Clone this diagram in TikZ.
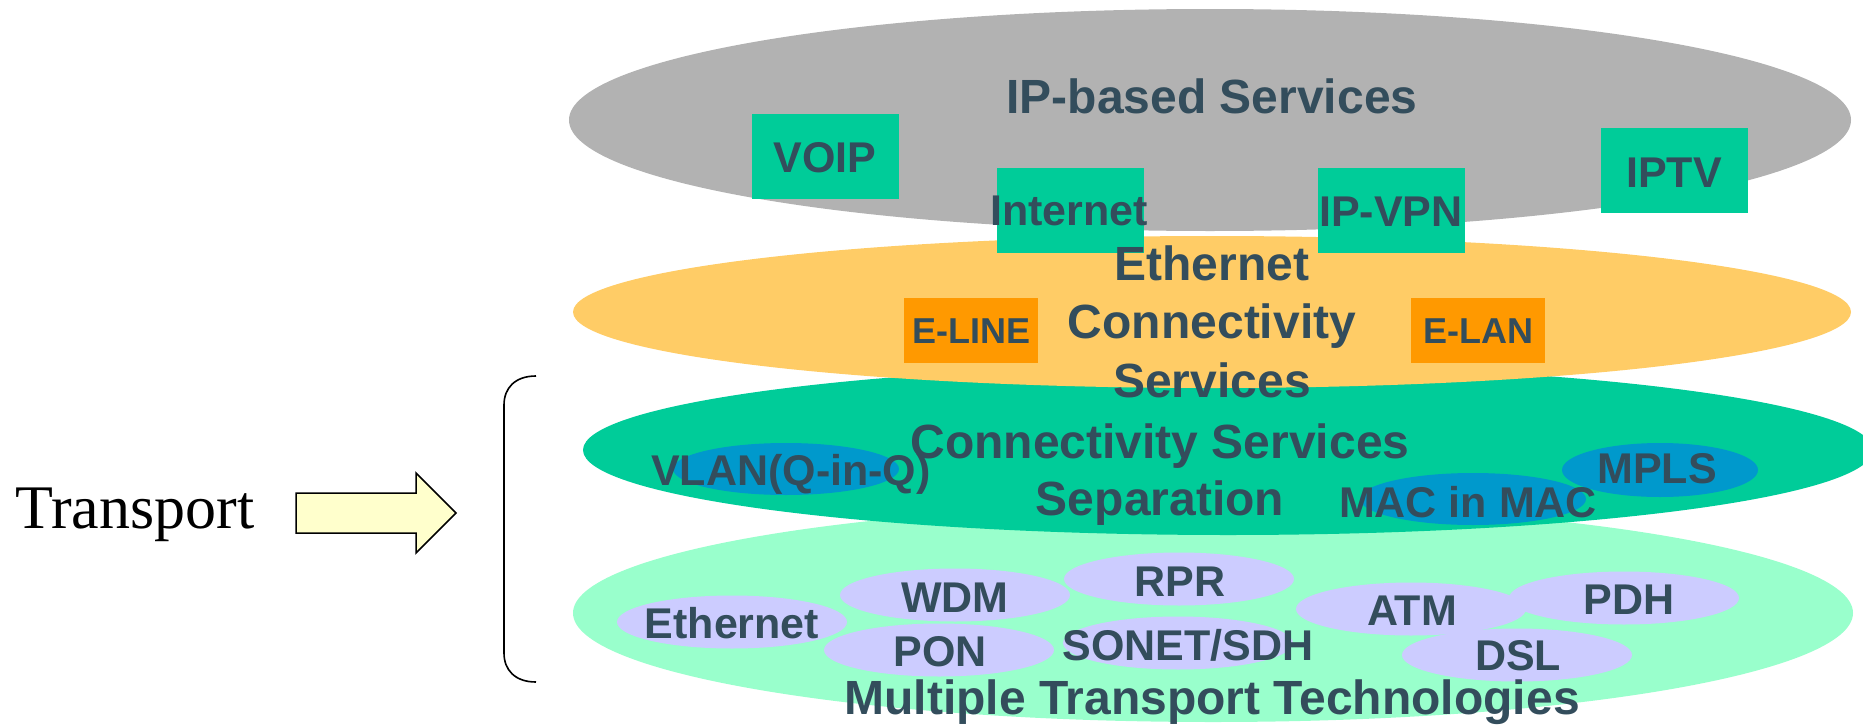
\documentclass[tikz,border=0pt]{standalone}
\usepackage{fontspec}
\setmainfont{Liberation Sans}
\newfontfamily\serifTNR{Liberation Serif}
\usetikzlibrary{shapes.geometric}
\definecolor{txt}{RGB}{51,77,92}
\definecolor{grayL}{RGB}{178,178,178}
\definecolor{orangeL}{RGB}{255,204,102}
\definecolor{orangeB}{RGB}{255,153,0}
\definecolor{greenD}{RGB}{0,204,153}
\definecolor{mint}{RGB}{153,255,204}
\definecolor{blueE}{RGB}{0,153,204}
\definecolor{lav}{RGB}{204,204,255}
\definecolor{paleY}{RGB}{255,255,204}
\tikzset{
  layer/.style={ellipse, inner sep=0pt, draw=none},
  techell/.style={ellipse, inner sep=0pt, fill=lav, minimum width=230pt, minimum height=53pt},
  blueell/.style={ellipse, inner sep=0pt, fill=blueE, minimum width=226pt, minimum height=52pt},
  svcbox/.style={rectangle, inner sep=0pt, fill=greenD, minimum width=147pt, minimum height=85pt},
  ethbox/.style={rectangle, inner sep=0pt, fill=orangeB, minimum width=134pt, minimum height=65pt},
  big/.style={text=txt, font=\bfseries\fontsize{48}{56}\selectfont, anchor=base, inner sep=0pt},
  mid/.style={text=txt, font=\bfseries\fontsize{43}{50}\selectfont, anchor=base, inner sep=0pt},
  sml/.style={text=txt, font=\bfseries\fontsize{36}{42}\selectfont, anchor=base, inner sep=0pt},
}
\begin{document}
\begin{tikzpicture}[x=1pt,y=-1pt]
\useasboundingbox (0,0) rectangle (1863,728);
% layers
\node[layer, fill=mint, minimum width=1280pt, minimum height=218pt] (mintL) at (1213,613) {};
\node[layer, fill=greenD, minimum width=1290pt, minimum height=170pt] (greenL) at (1228,450) {};
\node[layer, fill=orangeL, minimum width=1278pt, minimum height=152pt] (orangeLay) at (1212,312) {};
\node[layer, fill=grayL, minimum width=1282pt, minimum height=222pt] (grayLay) at (1210,120) {};
% blue ellipses
\node[blueell] (vlanE) at (786,469) {};
\node[blueell] (macE) at (1473,499) {};
\node[blueell, minimum width=196pt, minimum height=54pt] (mplsE) at (1660,470) {};
% tech ellipses
\node[techell] (ethE) at (732,622) {};
\node[techell] (wdmE) at (955,595) {};
\node[techell] (ponE) at (939,650) {};
\node[techell] (rprE) at (1179,579) {};
\node[techell] (sonE) at (1178,643) {};
\node[techell] (atmE) at (1411,609) {};
\node[techell] (dslE) at (1517,655) {};
\node[techell] (pdhE) at (1624,598) {};
% service boxes
\node[svcbox] (voipB) at (825,156) {};
\node[svcbox] (inetB) at (1070,210) {};
\node[svcbox] (vpnB) at (1391,210) {};
\node[svcbox] (tvB) at (1674,170) {};
% ethernet boxes
\node[ethbox] (elineB) at (971,330) {};
\node[ethbox] (elanB) at (1478,330) {};
% texts
\node[big] (ipT) at (1212,113) {IP-based Services};
\node[mid] (voipT) at (825,172) {VOIP};
\node[mid] (inetT) at (1069,225) {Internet};
\node[mid] (vpnT) at (1391,226) {IP-VPN};
\node[mid] (tvT) at (1674,187) {IPTV};
\node[big] (ecs1) at (1212,280) {Ethernet};
\node[big] (ecs2) at (1212,338) {Connectivity};
\node[big] (ecs3) at (1212,397) {Services};
\node[sml] (elineT) at (971,343) {E-LINE};
\node[sml] (elanT) at (1478,343) {E-LAN};
\node[big] (css1) at (1160,458) {Connectivity Services};
\node[big] (css2) at (1160,515) {Separation};
\node[mid] (vlanT) at (791,485) {VLAN(Q-in-Q)};
\node[mid] (macT) at (1468,517) {MAC in MAC};
\node[mid] (mplsT) at (1657,483) {MPLS};
\node[mid] (ethT) at (732,638) {Ethernet};
\node[mid] (wdmT) at (955,612) {WDM};
\node[mid] (ponT) at (940,666) {PON};
\node[mid] (rprT) at (1180,596) {RPR};
\node[mid] (sonT) at (1188,660) {SONET/SDH};
\node[mid] (atmT) at (1412,625) {ATM};
\node[mid] (dslT) at (1518,670) {DSL};
\node[mid] (pdhT) at (1629,614) {PDH};
\node[big] (mttT) at (1212,714) {Multiple Transport Technologies};
% Transport label, arrow, brace
\node[anchor=base, inner sep=0pt, font=\serifTNR\fontsize{62}{70}\selectfont] (trT) at (135,528) {Transport};
\draw[fill=paleY, line width=1.5pt, line join=miter] (296,493) -- (416,493) -- (416,473) -- (456,513) -- (416,553) -- (416,533) -- (296,533) -- cycle;
\draw[line width=1.6pt] (536,376) .. controls (515,376) and (504,388) .. (504,405) -- (504,653) .. controls (504,670) and (515,682) .. (536,682);
\end{tikzpicture}
\end{document}
